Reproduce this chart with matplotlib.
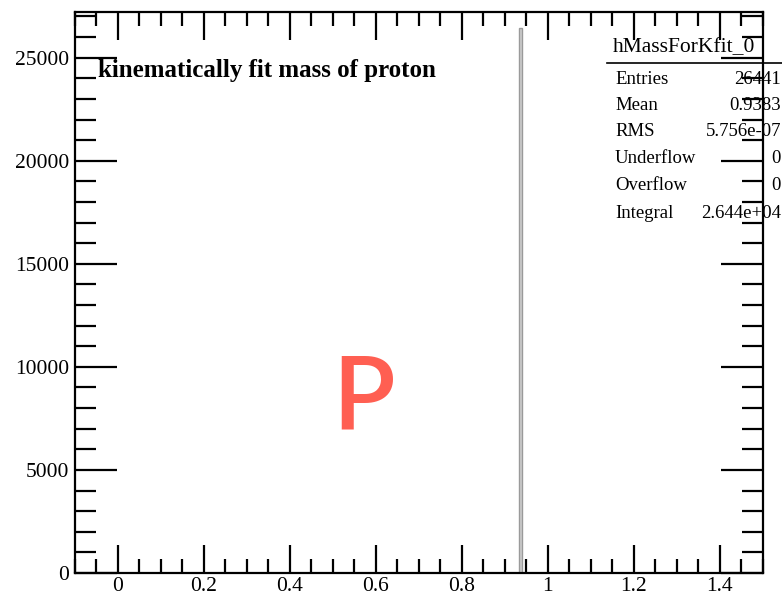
import matplotlib
matplotlib.use("Agg")
import matplotlib.pyplot as plt
from matplotlib.ticker import MultipleLocator

# histogram data (one filled bin)
bin_lo = [0.932]
bin_hi = [0.940]
counts = [26441]

hist_name = "hMassForKfit_0"
title = "kinematically fit mass of proton"
stat_labels = ["Entries", "Mean", "RMS", "Underflow", "Overflow", "Integral"]
stat_values = ["26441", "0.9383", "5.756e-07", "0", "0", "2.644e+04"]

serif = "Liberation Serif"

fig = plt.figure(figsize=(7.82, 5.95), dpi=100)
ax = fig.add_axes([75 / 782, 22 / 595, (762.7 - 75) / 782, (573 - 12) / 595])

for lo, hi, c in zip(bin_lo, bin_hi, counts):
    ax.stairs([c], [lo, hi], fill=True, color="#cdcdcd", zorder=1)
    ax.stairs([c], [lo, hi], fill=False, color="#9a9a9a", lw=1.0, zorder=2)

ax.set_xlim(-0.1, 1.5)
ax.set_ylim(0, 27216)

ax.xaxis.set_major_locator(MultipleLocator(0.2))
ax.xaxis.set_minor_locator(MultipleLocator(0.05))
ax.yaxis.set_major_locator(MultipleLocator(5000))
ax.yaxis.set_minor_locator(MultipleLocator(1000))

ax.tick_params(axis="x", which="major", direction="in", length=20, width=1.6,
               top=True, bottom=True, pad=3)
ax.tick_params(axis="x", which="minor", direction="in", length=10, width=1.6,
               top=True, bottom=True)
ax.tick_params(axis="y", which="major", direction="in", length=30, width=1.6,
               left=True, right=True, pad=4)
ax.tick_params(axis="y", which="minor", direction="in", length=15, width=1.6,
               left=True, right=True)

ax.xaxis.set_major_formatter(plt.FuncFormatter(lambda v, p: "%g" % round(v, 2)))
ax.yaxis.set_major_formatter(plt.FuncFormatter(lambda v, p: "%d" % v))

for lab in ax.get_xticklabels() + ax.get_yticklabels():
    lab.set_fontfamily(serif)
    lab.set_fontsize(15.5)

for sp in ax.spines.values():
    sp.set_linewidth(1.6)

# title inside the frame
fig.text(98 / 782, 1 - 70 / 595, title, family=serif, weight="bold",
         fontsize=18, ha="left", va="center")

# stats box
fig.text(684 / 782, 1 - 48 / 595, hist_name, family=serif, fontsize=15.5,
         ha="center", va="center")
fig.add_artist(plt.Line2D([607 / 782, 1.0], [1 - 63 / 595, 1 - 63 / 595],
                          color="black", lw=1.2))
row_y = [79, 106, 132, 159, 186, 213]
for lab, val, y in zip(stat_labels, stat_values, row_y):
    fig.text(615 / 782, 1 - y / 595, lab, family=serif, fontsize=13.5,
             ha="left", va="center")
    fig.text(781 / 782, 1 - y / 595, val, family=serif, fontsize=13.5,
             ha="right", va="center")

# watermark
fig.text(364 / 782, 1 - 400 / 595, "P", family="Lato", weight="semibold",
         fontsize=74, color="#ff5f52", ha="center", va="center")

fig.savefig("out.png", dpi=100)
